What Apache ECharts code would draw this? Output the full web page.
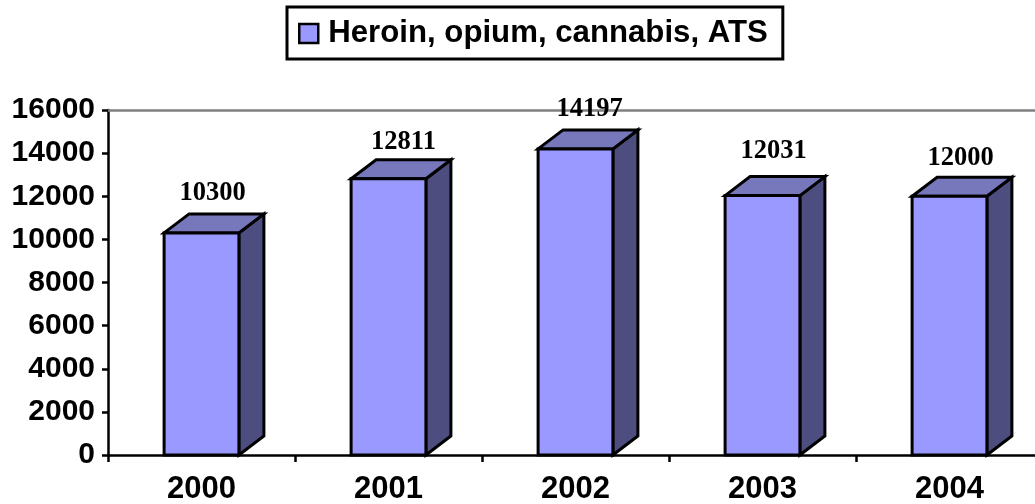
<!DOCTYPE html>
<html>
<head>
<meta charset="utf-8">
<style>html,body{margin:0;padding:0;background:#fff}#c{width:1035px;height:504px}</style>
<script src="https://cdn.jsdelivr.net/npm/echarts@6/dist/echarts.min.js"></script>
</head>
<body>
<div id="c"></div>
<script>
const categories = ['2000', '2001', '2002', '2003', '2004'];
const seriesName = 'Heroin, opium, cannabis, ATS';
const values = [10300, 12811, 14197, 12031, 12000];
const labelNudgeX = [11, 15, 14, 11, 11];
const labelNudgeY = [-40, -37, -40, -44, -38];

const DEPTH_X = 25, DEPTH_Y = -19, BAR_RATIO = 0.4;
const FRONT = '#9999FF', TOP = '#7777BB', SIDE = '#4D4D80';
const sansBold = { fontFamily: '"Liberation Sans", Arial, sans-serif', fontWeight: 'bold', color: '#000' };

function renderBar(params, api) {
  const i = api.value(0);
  const top = api.coord([i, api.value(1)]);
  const base = api.coord([i, 0]);
  const w = api.size([1, 0])[0] * BAR_RATIO;
  const x0 = top[0] - w / 2, x1 = top[0] + w / 2, yT = top[1], yB = base[1];
  const border = { stroke: '#000', lineWidth: 3, lineJoin: 'miter' };
  const poly = (points, fill) => ({
    type: 'polygon', shape: { points }, style: Object.assign({ fill }, border)
  });
  return {
    type: 'group',
    children: [
      poly([[x1, yB], [x1 + DEPTH_X, yB + DEPTH_Y], [x1 + DEPTH_X, yT + DEPTH_Y], [x1, yT]], SIDE),
      poly([[x0, yT], [x0 + DEPTH_X, yT + DEPTH_Y], [x1 + DEPTH_X, yT + DEPTH_Y], [x1, yT]], TOP),
      poly([[x0, yB], [x0, yT], [x1, yT], [x1, yB]], FRONT),
      {
        type: 'text',
        style: {
          text: String(api.value(1)),
          x: top[0] + labelNudgeX[params.dataIndex],
          y: yT + labelNudgeY[params.dataIndex],
          align: 'center', verticalAlign: 'middle',
          font: 'bold 26.5px "Liberation Serif", "Times New Roman", serif',
          fill: '#000'
        }
      }
    ]
  };
}

const chart = echarts.init(document.getElementById('c'), null, { renderer: 'canvas' });
chart.setOption({
  animation: false,
  backgroundColor: '#fff',
  grid: { left: 108, top: 110, width: 935, height: 345, containLabel: false, outerBoundsMode: 'none' },
  legend: {
    show: true,
    top: 7, left: 287,
    padding: [11, 15, 10, 11],
    borderColor: '#000', borderWidth: 3,
    itemWidth: 19, itemHeight: 19, itemGap: 0,
    icon: 'rect',
    itemStyle: { color: FRONT, borderColor: '#000', borderWidth: 2.5 },
    textStyle: Object.assign({ fontSize: 31.2, padding: [0, 0, 0, 5] }, sansBold),
    data: [seriesName]
  },
  xAxis: [
    {
      type: 'category', data: categories, position: 'bottom',
      axisLine: { lineStyle: { color: '#000', width: 2.5 } },
      axisTick: { show: true, length: 7, lineStyle: { color: '#000', width: 2.5 }, alignWithLabel: false },
      axisLabel: Object.assign({ fontSize: 31, margin: 19 }, sansBold),
      splitLine: { show: false }
    },
    {
      type: 'category', data: categories, position: 'top',
      axisLine: { show: true, onZero: false, lineStyle: { color: '#808080', width: 2.5 } },
      axisTick: { show: false }, axisLabel: { show: false }, splitLine: { show: false }
    }
  ],
  yAxis: {
    type: 'value', min: 0, max: 16000, interval: 2000,
    axisLine: { show: true, lineStyle: { color: '#000', width: 2.5 } },
    axisTick: { show: true, length: 6, lineStyle: { color: '#000', width: 2.5 } },
    axisLabel: Object.assign({ fontSize: 30, margin: 13, padding: [3, 0, 0, 0], formatter: v => String(v) }, sansBold),
    splitLine: { show: false }
  },
  series: [{
    name: seriesName,
    type: 'custom',
    coordinateSystem: 'cartesian2d',
    itemStyle: { color: FRONT },
    encode: { x: 0, y: 1 },
    clip: false,
    renderItem: renderBar,
    data: values.map((v, i) => [i, v])
  }]
});
</script>
</body>
</html>
